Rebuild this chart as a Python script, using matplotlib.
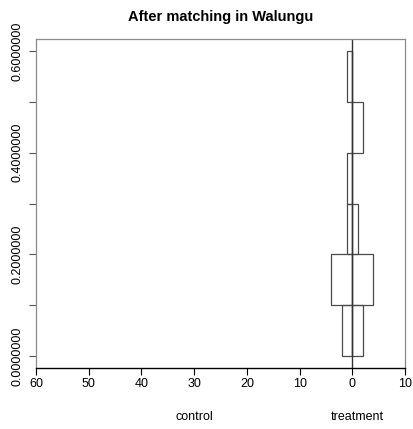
import numpy as np
import matplotlib.pyplot as plt

plt.rcParams['font.family'] = ['Liberation Sans', 'DejaVu Sans']

# propensity score bins and matched counts per bin
bin_edges = [0.0, 0.1, 0.2, 0.3, 0.4, 0.5, 0.6]
control_counts = [2, 4, 1, 1, 0, 1]
treatment_counts = [2, 4, 1, 0, 2, 0]
x_ticks = [-60, -50, -40, -30, -20, -10, 0, 10]
y_ticks = [0.0, 0.1, 0.2, 0.3, 0.4, 0.5, 0.6]
y_labels = ['0.0000000', '', '0.2000000', '', '0.4000000', '', '0.6000000']

W, H = 413, 429
fig = plt.figure(figsize=(W / 100, H / 100), dpi=100)
ax = fig.add_axes([36 / W, (H - 368) / H, (405 - 36) / W, (368 - 39) / H])

lows = np.array(bin_edges[:-1])
heights = np.diff(bin_edges)
edge = '#4a4a4a'
ax.barh(lows, [-c for c in control_counts], height=heights, left=0, align='edge',
        fill=False, edgecolor=edge, linewidth=0.9)
ax.barh(lows, treatment_counts, height=heights, left=0, align='edge',
        fill=False, edgecolor=edge, linewidth=0.9)
ax.axvline(0, color='#333333', linewidth=1.0)

ax.set_xlim(-60, 10)
ax.set_ylim(-0.024, 0.624)
ax.set_xticks(x_ticks)
ax.set_xticklabels([str(abs(t)) for t in x_ticks])
ax.set_yticks(y_ticks)
ax.set_yticklabels(y_labels, rotation=90, va='center')
ax.tick_params(axis='both', labelsize=9, length=5, width=0.8, color='#555555')
ax.tick_params(axis='x', pad=2, color='black')
ax.tick_params(axis='y', pad=4)

for side in ['top', 'right', 'left']:
    ax.spines[side].set_color('#8c8c8c')
    ax.spines[side].set_linewidth(0.9)
ax.spines['bottom'].set_color('black')
ax.spines['bottom'].set_linewidth(1.0)

ax.set_title('After matching in Walungu', fontsize=10.5, fontweight='bold', pad=13)

trans = ax.get_xaxis_transform()
ax.text(-30, -0.15, 'control', transform=trans, ha='center', va='center', fontsize=9)
ax.text(1, -0.15, 'treatment', transform=trans, ha='center', va='center', fontsize=9)

fig.savefig('out.png', dpi=100)
